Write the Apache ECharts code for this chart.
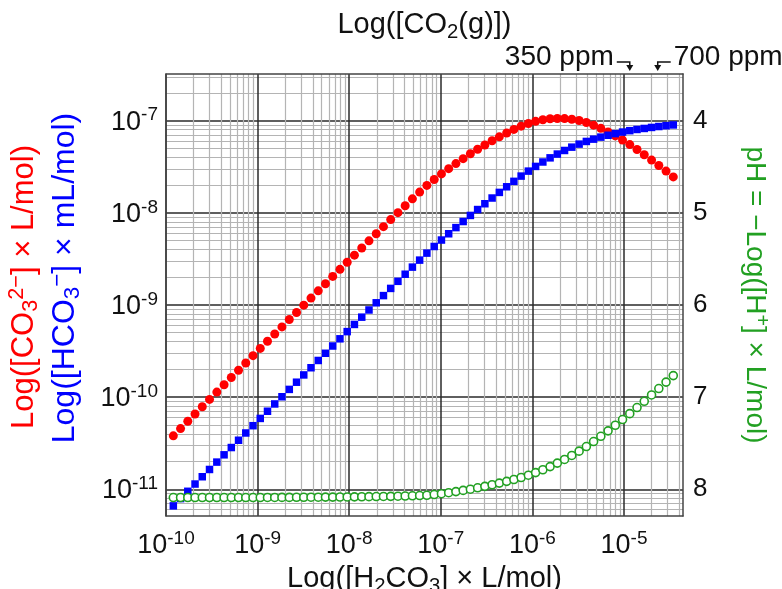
<!DOCTYPE html>
<html>
<head>
<meta charset="utf-8">
<script src="https://cdn.jsdelivr.net/npm/echarts@6/dist/echarts.min.js"></script>
<style>
  html, body { margin: 0; padding: 0; background: #fff; }
  #chart { width: 782px; height: 589px; }
</style>
</head>
<body>
<div id="chart"></div>
<script>
// all values are log10
const logH2CO3 = [
  -9.920, -9.841, -9.762, -9.683, -9.604, -9.525, -9.445, -9.366, -9.287, -9.208,
  -9.129, -9.050, -8.971, -8.892, -8.813, -8.734, -8.654, -8.575, -8.496, -8.417,
  -8.338, -8.259, -8.180, -8.101, -8.022, -7.943, -7.863, -7.784, -7.705, -7.626,
  -7.547, -7.468, -7.389, -7.310, -7.231, -7.152, -7.072, -6.993, -6.914, -6.835,
  -6.756, -6.677, -6.598, -6.519, -6.440, -6.361, -6.281, -6.202, -6.123, -6.044,
  -5.965, -5.886, -5.807, -5.728, -5.649, -5.570, -5.490, -5.411, -5.332, -5.253,
  -5.174, -5.095, -5.016, -4.937, -4.858, -4.779, -4.699, -4.620, -4.541, -4.462,
];
const logCO3 = [
  -10.420, -10.341, -10.262, -10.183, -10.104, -10.025, -9.945, -9.866, -9.787, -9.708,
  -9.629, -9.550, -9.471, -9.394, -9.315, -9.238, -9.158, -9.081, -9.002, -8.925,
  -8.846, -8.769, -8.690, -8.613, -8.536, -8.459, -8.381, -8.304, -8.227, -8.150,
  -8.073, -7.998, -7.923, -7.848, -7.775, -7.702, -7.638, -7.577, -7.520, -7.465,
  -7.412, -7.359, -7.310, -7.263, -7.218, -7.175, -7.133, -7.094, -7.059, -7.030,
  -7.007, -6.990, -6.979, -6.976, -6.977, -6.984, -6.998, -7.019, -7.048, -7.083,
  -7.122, -7.165, -7.210, -7.259, -7.312, -7.369, -7.427, -7.486, -7.547, -7.610,
];
// HCO3- in mL/mol
const logHCO3 = [
  -11.180, -11.101, -11.022, -10.943, -10.864, -10.785, -10.705, -10.626, -10.547, -10.468,
  -10.389, -10.310, -10.231, -10.153, -10.074, -9.996, -9.916, -9.838, -9.759, -9.681,
  -9.602, -9.524, -9.445, -9.367, -9.289, -9.211, -9.132, -9.054, -8.976, -8.898,
  -8.820, -8.743, -8.666, -8.589, -8.513, -8.437, -8.365, -8.295, -8.227, -8.160,
  -8.094, -8.028, -7.964, -7.901, -7.839, -7.778, -7.717, -7.658, -7.601, -7.547,
  -7.496, -7.448, -7.403, -7.362, -7.323, -7.287, -7.254, -7.225, -7.200, -7.178,
  -7.158, -7.140, -7.123, -7.108, -7.095, -7.084, -7.073, -7.063, -7.054, -7.046,
];
const pH = [
  8.090, 8.090, 8.090, 8.090, 8.090, 8.090, 8.090, 8.090, 8.090, 8.090,
  8.090, 8.090, 8.090, 8.089, 8.089, 8.088, 8.088, 8.087, 8.087, 8.086,
  8.086, 8.085, 8.085, 8.084, 8.083, 8.082, 8.081, 8.080, 8.079, 8.078,
  8.077, 8.075, 8.073, 8.071, 8.068, 8.065, 8.057, 8.048, 8.037, 8.025,
  8.012, 7.999, 7.984, 7.968, 7.951, 7.933, 7.914, 7.894, 7.872, 7.847,
  7.819, 7.788, 7.754, 7.716, 7.676, 7.633, 7.586, 7.536, 7.482, 7.425,
  7.366, 7.305, 7.243, 7.179, 7.113, 7.045, 6.976, 6.907, 6.837, 6.766,
];

const xMajor = [-10, -9, -8, -7, -6, -5];
const yMajor = [-11, -10, -9, -8, -7];
const pHTicks = [4, 5, 6, 7, 8];
const ppmMarks = [
  { label: '350 ppm', x: -4.937, side: 'left' },
  { label: '700 ppm', x: -4.632, side: 'right' },
];

const X_MIN = -10, X_MAX = -4.356;
const Y_MIN = -11.29, Y_MAX = -6.493;
// right axis lines up with the left one: pH 4 sits on 10^-7
const PH_MIN = -Y_MAX - 3, PH_MAX = -Y_MIN - 3;

const FONT = '"Liberation Sans", Arial, Helvetica, sans-serif';
const RED = '#ff0000', BLUE = '#0000ff', GREEN = '#22a022', INK = '#111';
const MAJOR = '#2a2a2a', MINOR = '#b4b4b4', FRAME = '#444';

// 2..9 inside every decade
const minorTicks = (lo, hi) => {
  const out = [];
  for (let d = Math.floor(lo); d < hi; d++) {
    for (let k = 2; k <= 9; k++) {
      const v = d + Math.log10(k);
      if (v > lo && v < hi) out.push(v);
    }
  }
  return out;
};

const powRich = {
  b: { fontFamily: FONT, fontSize: 27, lineHeight: 30, verticalAlign: 'bottom', color: INK },
  s: { fontFamily: FONT, fontSize: 19, lineHeight: 19, verticalAlign: 'top', color: INK },
};
const powLabel = v => `{b|10}{s|${Math.round(v)}}`;

const titleRich = (color, size) => ({
  t: { fontFamily: FONT, fontSize: size, lineHeight: size + 5, color },
  sub: { fontFamily: FONT, fontSize: size * 0.7, lineHeight: size * 0.7, verticalAlign: 'bottom', color },
  sup: { fontFamily: FONT, fontSize: size * 0.7, lineHeight: size * 0.7, verticalAlign: 'top', color },
});

const frameLine = { show: true, lineStyle: { color: FRAME, width: 1.5 } };
const noLine = { show: false };

const chart = echarts.init(document.getElementById('chart'), null, { renderer: 'canvas' });

const option = {
  animation: false,
  backgroundColor: '#fff',
  grid: { left: 166, right: 99, top: 74, bottom: 73, containLabel: false, outerBoundsMode: 'none' },
  xAxis: [
    {
      type: 'value',
      position: 'bottom',
      min: X_MIN,
      max: X_MAX,
      axisLine: frameLine,
      axisTick: { show: false, customValues: xMajor },
      axisLabel: { customValues: xMajor, formatter: powLabel, rich: powRich, margin: 13 },
      splitLine: { show: true, lineStyle: { color: MAJOR, width: 1.5 } },
      name: '{t|Log([H}{sub|2}{t|CO}{sub|3}{t|] × L/mol)}',
      nameLocation: 'middle',
      nameGap: 46,
      nameTextStyle: { rich: titleRich(INK, 29) },
    },
    {
      type: 'value',
      position: 'top',
      min: X_MIN,
      max: X_MAX,
      axisLine: frameLine,
      axisTick: { show: false, customValues: minorTicks(X_MIN, X_MAX) },
      axisLabel: { show: false },
      splitLine: { show: true, lineStyle: { color: MINOR, width: 1.2 } },
      name: '{t|Log([CO}{sub|2}{t|(g)])}',
      nameLocation: 'middle',
      nameGap: 32,
      nameTextStyle: { rich: titleRich(INK, 29) },
    },
  ],
  yAxis: [
    {
      type: 'value',
      position: 'left',
      min: Y_MIN,
      max: Y_MAX,
      axisLine: frameLine,
      axisTick: { show: false, customValues: yMajor },
      axisLabel: { customValues: yMajor, formatter: powLabel, rich: powRich, margin: 8 },
      splitLine: { show: true, lineStyle: { color: MAJOR, width: 1.5 } },
      name: '{t|Log([HCO}{sub|3}{sup|−}{t|] × mL/mol)}',
      nameLocation: 'middle',
      nameRotate: 90,
      nameGap: 82,
      nameTextStyle: { rich: titleRich(BLUE, 32), padding: [0, 0, 0, 34] },
    },
    {
      type: 'value',
      position: 'right',
      inverse: true,
      min: PH_MIN,
      max: PH_MAX,
      axisLine: frameLine,
      axisTick: { show: false, customValues: pHTicks },
      axisLabel: {
        customValues: pHTicks,
        fontFamily: FONT,
        fontSize: 26,
        color: INK,
        margin: 10,
      },
      splitLine: noLine,
      name: '{t|pH = −Log([H}{sup|+}{t|] × L/mol)}',
      nameLocation: 'middle',
      nameRotate: -90,
      nameGap: 55,
      nameTextStyle: { rich: titleRich(GREEN, 28) },
    },
    {
      type: 'value',
      position: 'left',
      min: Y_MIN,
      max: Y_MAX,
      axisLine: noLine,
      axisTick: { show: false, customValues: minorTicks(Y_MIN, Y_MAX) },
      axisLabel: { show: false },
      splitLine: { show: true, lineStyle: { color: MINOR, width: 1.2 } },
      name: '{t|Log([CO}{sub|3}{sup|2−}{t|] × L/mol)}',
      nameLocation: 'middle',
      nameRotate: 90,
      nameGap: 124,
      nameTextStyle: { rich: titleRich(RED, 31), padding: [0, 0, 0, 16] },
    },
  ],
  series: [
    {
      name: 'CO3',
      type: 'scatter',
      xAxisIndex: 0,
      yAxisIndex: 0,
      symbol: 'circle',
      symbolSize: 9,
      itemStyle: { color: RED, opacity: 1 },
      data: logH2CO3.map((x, i) => [x, logCO3[i]]),
    },
    {
      name: 'HCO3',
      type: 'scatter',
      xAxisIndex: 0,
      yAxisIndex: 0,
      symbol: 'rect',
      symbolSize: 7.5,
      itemStyle: { color: BLUE, opacity: 1 },
      data: logH2CO3.map((x, i) => [x, logHCO3[i]]),
    },
    {
      name: 'pH',
      type: 'scatter',
      xAxisIndex: 0,
      yAxisIndex: 1,
      symbol: 'circle',
      symbolSize: 8,
      itemStyle: { color: '#fff', borderColor: GREEN, borderWidth: 1.6, opacity: 1 },
      data: logH2CO3.map((x, i) => [x, pH[i]]),
    },
  ],
};

chart.setOption(option);

// ppm markers above the frame, placed through the x axis
const graphics = [];
ppmMarks.forEach(m => {
  const px = chart.convertToPixel({ xAxisIndex: 0 }, m.x);
  const dir = m.side === 'left' ? -1 : 1;
  const barY = 62;
  graphics.push({
    type: 'polyline',
    silent: true,
    shape: { points: [[px + dir * 13, barY], [px, barY], [px, barY + 4]] },
    style: { stroke: INK, lineWidth: 1.5, fill: null },
  });
  graphics.push({
    type: 'polygon',
    silent: true,
    shape: { points: [[px - 3.5, barY + 3], [px + 3.5, barY + 3], [px, barY + 9]] },
    style: { fill: INK },
  });
  graphics.push({
    type: 'text',
    silent: true,
    x: px + dir * 16,
    y: 57,
    style: {
      text: m.label,
      fontFamily: FONT,
      fontSize: 28,
      fill: INK,
      align: dir < 0 ? 'right' : 'left',
      verticalAlign: 'middle',
    },
  });
});
chart.setOption({ graphic: graphics });

window.addEventListener('resize', () => chart.resize());
</script>
</body>
</html>
